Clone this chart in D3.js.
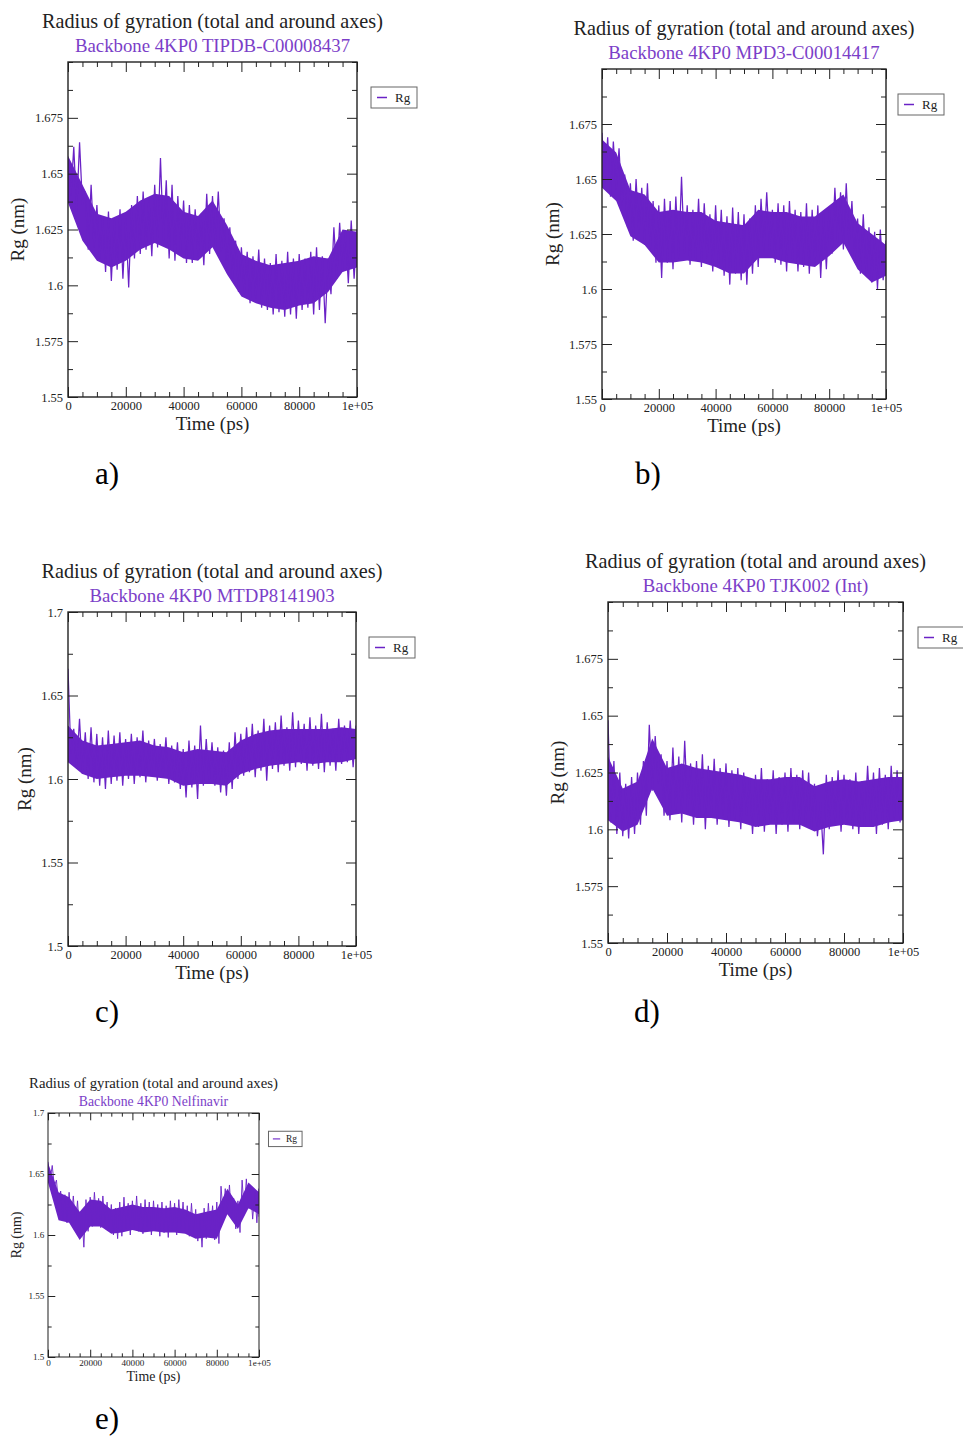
<!DOCTYPE html>
<html>
<head>
<meta charset="utf-8">
<script src="https://cdn.jsdelivr.net/npm/d3@7"></script>
<style>
  body { margin: 0; background: #fff; }
  svg { display: block; }
  text { font-family: "Liberation Serif", "Times New Roman", serif; }
</style>
</head>
<body>
<svg id="chart" width="963" height="1436"></svg>
<script>
// ── data (Rg in nm) ─────────────────────────────────────────────────────────
// extreme envelope every 2 ns
const timePs = [0, 2000, 4000, 6000, 8000, 10000, 12000, 14000, 16000, 18000, 20000,
  22000, 24000, 26000, 28000, 30000, 32000, 34000, 36000, 38000, 40000,
  42000, 44000, 46000, 48000, 50000, 52000, 54000, 56000, 58000, 60000,
  62000, 64000, 66000, 68000, 70000, 72000, 74000, 76000, 78000, 80000,
  82000, 84000, 86000, 88000, 90000, 92000, 94000, 96000, 98000, 100000];
// dense core band every 5 ns
const timeCore = [0, 5000, 10000, 15000, 20000, 25000, 30000, 35000, 40000, 45000, 50000,
  55000, 60000, 65000, 70000, 75000, 80000, 85000, 90000, 95000, 100000];

const hiA = [1.655, 1.662, 1.664, 1.642, 1.645, 1.636, 1.631, 1.633, 1.630, 1.634, 1.630,
  1.636, 1.640, 1.642, 1.639, 1.645, 1.657, 1.647, 1.645, 1.640, 1.638,
  1.636, 1.634, 1.632, 1.641, 1.640, 1.642, 1.630, 1.626, 1.620, 1.617,
  1.615, 1.613, 1.616, 1.612, 1.610, 1.614, 1.611, 1.615, 1.612, 1.614,
  1.612, 1.615, 1.617, 1.613, 1.612, 1.626, 1.628, 1.624, 1.629, 1.625];
const loA = [1.640, 1.633, 1.636, 1.616, 1.617, 1.612, 1.606, 1.602, 1.607, 1.603, 1.599,
  1.612, 1.614, 1.616, 1.613, 1.617, 1.620, 1.612, 1.611, 1.615, 1.610,
  1.610, 1.613, 1.609, 1.614, 1.617, 1.615, 1.606, 1.603, 1.597, 1.596,
  1.592, 1.594, 1.590, 1.589, 1.587, 1.588, 1.586, 1.587, 1.585, 1.589,
  1.590, 1.587, 1.589, 1.583, 1.596, 1.603, 1.606, 1.601, 1.603, 1.610];
const coreHiA = [1.658, 1.645, 1.632, 1.630, 1.633, 1.638, 1.641, 1.640, 1.633, 1.631, 1.638,
  1.627, 1.614, 1.611, 1.609, 1.610, 1.611, 1.613, 1.612, 1.625, 1.624];
const coreLoA = [1.637, 1.620, 1.611, 1.608, 1.611, 1.616, 1.619, 1.616, 1.612, 1.611, 1.617,
  1.605, 1.595, 1.592, 1.590, 1.589, 1.591, 1.592, 1.597, 1.606, 1.608];

const hiB = [1.671, 1.669, 1.667, 1.664, 1.652, 1.648, 1.650, 1.646, 1.648, 1.640, 1.638,
  1.641, 1.640, 1.642, 1.651, 1.638, 1.636, 1.641, 1.639, 1.634, 1.638,
  1.636, 1.633, 1.637, 1.635, 1.634, 1.632, 1.638, 1.641, 1.644, 1.636,
  1.639, 1.638, 1.640, 1.636, 1.635, 1.639, 1.636, 1.638, 1.634, 1.637,
  1.646, 1.644, 1.648, 1.640, 1.632, 1.634, 1.628, 1.626, 1.627, 1.622];
const loB = [1.648, 1.642, 1.645, 1.638, 1.628, 1.622, 1.625, 1.620, 1.618, 1.612, 1.605,
  1.612, 1.609, 1.614, 1.616, 1.611, 1.613, 1.610, 1.614, 1.608, 1.610,
  1.606, 1.602, 1.607, 1.604, 1.602, 1.607, 1.610, 1.617, 1.618, 1.612,
  1.611, 1.608, 1.612, 1.608, 1.610, 1.607, 1.611, 1.605, 1.609, 1.616,
  1.621, 1.618, 1.620, 1.612, 1.607, 1.606, 1.603, 1.600, 1.604, 1.606];
const coreHiB = [1.668, 1.662, 1.645, 1.643, 1.635, 1.636, 1.635, 1.635, 1.631, 1.630, 1.629,
  1.636, 1.635, 1.635, 1.633, 1.633, 1.638, 1.643, 1.630, 1.625, 1.620];
const coreLoB = [1.646, 1.640, 1.624, 1.620, 1.612, 1.612, 1.613, 1.612, 1.610, 1.607, 1.607,
  1.614, 1.614, 1.612, 1.611, 1.610, 1.615, 1.621, 1.609, 1.603, 1.606];

const hiC = [1.666, 1.630, 1.636, 1.628, 1.631, 1.627, 1.625, 1.629, 1.626, 1.628, 1.624,
  1.627, 1.625, 1.629, 1.623, 1.624, 1.621, 1.625, 1.620, 1.622, 1.618,
  1.623, 1.620, 1.632, 1.624, 1.622, 1.619, 1.617, 1.622, 1.628, 1.627,
  1.631, 1.633, 1.629, 1.636, 1.632, 1.634, 1.638, 1.631, 1.640, 1.635,
  1.633, 1.637, 1.632, 1.639, 1.634, 1.630, 1.636, 1.632, 1.635, 1.632];
const loC = [1.615, 1.606, 1.603, 1.600, 1.598, 1.596, 1.594, 1.597, 1.599, 1.596, 1.600,
  1.597, 1.601, 1.598, 1.602, 1.599, 1.601, 1.597, 1.598, 1.594, 1.589,
  1.595, 1.588, 1.596, 1.598, 1.596, 1.592, 1.590, 1.594, 1.600, 1.602,
  1.604, 1.601, 1.605, 1.599, 1.606, 1.604, 1.608, 1.605, 1.607, 1.609,
  1.605, 1.608, 1.606, 1.604, 1.608, 1.605, 1.609, 1.610, 1.607, 1.612];
const coreHiC = [1.632, 1.623, 1.620, 1.621, 1.622, 1.623, 1.620, 1.619, 1.616, 1.618, 1.617,
  1.616, 1.623, 1.627, 1.629, 1.630, 1.630, 1.630, 1.630, 1.631, 1.630];
const coreLoC = [1.610, 1.603, 1.600, 1.601, 1.602, 1.602, 1.601, 1.600, 1.596, 1.597, 1.597,
  1.596, 1.603, 1.606, 1.608, 1.609, 1.610, 1.609, 1.610, 1.610, 1.612];

const hiD = [1.648, 1.630, 1.625, 1.620, 1.623, 1.625, 1.630, 1.646, 1.641, 1.633, 1.630,
  1.636, 1.632, 1.639, 1.629, 1.630, 1.633, 1.628, 1.631, 1.627, 1.629,
  1.626, 1.627, 1.625, 1.622, 1.624, 1.627, 1.622, 1.626, 1.623, 1.625,
  1.627, 1.624, 1.626, 1.625, 1.620, 1.612, 1.624, 1.623, 1.626, 1.624,
  1.622, 1.625, 1.621, 1.628, 1.625, 1.627, 1.624, 1.628, 1.626, 1.626];
const loD = [1.603, 1.598, 1.597, 1.596, 1.598, 1.602, 1.606, 1.617, 1.620, 1.606, 1.604,
  1.607, 1.603, 1.608, 1.602, 1.605, 1.600, 1.606, 1.602, 1.606, 1.601,
  1.604, 1.600, 1.606, 1.598, 1.601, 1.599, 1.603, 1.598, 1.602, 1.599,
  1.603, 1.600, 1.602, 1.600, 1.597, 1.589, 1.600, 1.603, 1.599, 1.602,
  1.600, 1.598, 1.601, 1.603, 1.598, 1.602, 1.600, 1.604, 1.603, 1.605];
const coreHiD = [1.632, 1.618, 1.621, 1.640, 1.627, 1.629, 1.627, 1.626, 1.625, 1.624, 1.622,
  1.622, 1.623, 1.623, 1.619, 1.621, 1.622, 1.621, 1.622, 1.623, 1.623];
const coreLoD = [1.604, 1.599, 1.602, 1.618, 1.606, 1.607, 1.605, 1.605, 1.604, 1.603, 1.601,
  1.602, 1.602, 1.602, 1.599, 1.601, 1.602, 1.601, 1.601, 1.603, 1.604];

const hiE = [1.660, 1.657, 1.645, 1.636, 1.633, 1.635, 1.632, 1.628, 1.618, 1.629, 1.631,
  1.635, 1.630, 1.632, 1.627, 1.625, 1.622, 1.627, 1.631, 1.626, 1.628,
  1.632, 1.626, 1.629, 1.627, 1.628, 1.625, 1.627, 1.624, 1.628, 1.626,
  1.629, 1.627, 1.624, 1.626, 1.621, 1.615, 1.622, 1.626, 1.624, 1.627,
  1.640, 1.638, 1.641, 1.630, 1.628, 1.645, 1.646, 1.640, 1.635, 1.638];
const loE = [1.645, 1.640, 1.625, 1.612, 1.610, 1.613, 1.608, 1.600, 1.590, 1.603, 1.607,
  1.611, 1.606, 1.609, 1.605, 1.600, 1.597, 1.599, 1.604, 1.600, 1.605,
  1.603, 1.601, 1.606, 1.600, 1.604, 1.599, 1.602, 1.598, 1.603, 1.600,
  1.605, 1.602, 1.599, 1.601, 1.595, 1.590, 1.597, 1.602, 1.596, 1.593,
  1.617, 1.619, 1.614, 1.605, 1.602, 1.619, 1.622, 1.613, 1.610, 1.615];
const coreHiE = [1.659, 1.635, 1.631, 1.619, 1.629, 1.628, 1.621, 1.623, 1.625, 1.623, 1.623,
  1.622, 1.623, 1.621, 1.617, 1.619, 1.621, 1.638, 1.625, 1.643, 1.635];
const coreLoE = [1.643, 1.612, 1.610, 1.596, 1.607, 1.607, 1.601, 1.602, 1.604, 1.602, 1.603,
  1.602, 1.602, 1.601, 1.597, 1.598, 1.597, 1.617, 1.605, 1.622, 1.617];

const xTicks = [0, 20000, 40000, 60000, 80000, 100000];
const xTickLabels = ['0', '20000', '40000', '60000', '80000', '1e+05'];
const yTicksFine = [1.55, 1.575, 1.6, 1.625, 1.65, 1.675];
const yLabelsFine = ['1.55', '1.575', '1.6', '1.625', '1.65', '1.675'];
const yTicksWide = [1.5, 1.55, 1.6, 1.65, 1.7];
const yLabelsWide = ['1.5', '1.55', '1.6', '1.65', '1.7'];

const mainTitle = 'Radius of gyration (total and around axes)';
const subtitles = ['Backbone 4KP0 TIPDB-C00008437', 'Backbone 4KP0 MPD3-C00014417',
  'Backbone 4KP0 MTDP8141903', 'Backbone 4KP0 TJK002 (Int)', 'Backbone 4KP0 Nelfinavir'];
const panelLetters = ['a)', 'b)', 'c)', 'd)', 'e)'];

// ── layout ──────────────────────────────────────────────────────────────────
const LINE = '#6a22c6';
const SUB = '#7b3ec8';
const INK = '#222';

const panels = [
  { hi: hiA, lo: loA, cHi: coreHiA, cLo: coreLoA, yDom: [1.55, 1.7], yTicks: yTicksFine, yLabels: yLabelsFine,
    minorStep: 0.0125, frame: { x: 68, y: 62, w: 289, h: 335 }, s: 1, yLabOff: 44, legDx: 14, letter: [95, 484] },
  { hi: hiB, lo: loB, cHi: coreHiB, cLo: coreLoB, yDom: [1.55, 1.7], yTicks: yTicksFine, yLabels: yLabelsFine,
    minorStep: 0.0125, frame: { x: 602, y: 69, w: 284, h: 330 }, s: 1, yLabOff: 43, legDx: 12, letter: [635, 484] },
  { hi: hiC, lo: loC, cHi: coreHiC, cLo: coreLoC, yDom: [1.5, 1.7], yTicks: yTicksWide, yLabels: yLabelsWide,
    minorStep: 0.025, frame: { x: 68, y: 612, w: 288, h: 334 }, s: 1, yLabOff: 37, legDx: 13, letter: [95, 1022] },
  { hi: hiD, lo: loD, cHi: coreHiD, cLo: coreLoD, yDom: [1.55, 1.7], yTicks: yTicksFine, yLabels: yLabelsFine,
    minorStep: 0.0125, frame: { x: 608, y: 602, w: 295, h: 341 }, s: 1, yLabOff: 44, legDx: 15, letter: [634, 1022] },
  { hi: hiE, lo: loE, cHi: coreHiE, cLo: coreLoE, yDom: [1.5, 1.7], yTicks: yTicksWide, yLabels: yLabelsWide,
    minorStep: 0.025, frame: { x: 48, y: 1113, w: 211, h: 244 }, s: 0.73, yLabOff: 37, legDx: 13, letter: [95, 1429] },
];

const svg = d3.select('#chart');

function styleAxis(sel, fs) {
  sel.select('.domain').remove();
  sel.selectAll('line').attr('stroke', INK).attr('stroke-width', 1);
  sel.selectAll('text').attr('fill', INK).style('font-size', fs + 'px')
    .style('font-family', '"Liberation Serif", "Times New Roman", serif');
}

panels.forEach((p, i) => {
  const s = p.s;
  const { x: fx, y: fy, w: fw, h: fh } = p.frame;
  const g = svg.append('g');
  const x = d3.scaleLinear().domain([0, 100000]).range([fx, fx + fw]);
  const y = d3.scaleLinear().domain(p.yDom).range([fy + fh, fy]);

  const clipId = 'clip' + i;
  g.append('clipPath').attr('id', clipId).append('rect')
    .attr('x', fx).attr('y', fy).attr('width', fw).attr('height', fh);

  // series: solid core band + spiky zigzag through the extremes
  const data = g.append('g').attr('clip-path', `url(#${clipId})`);
  const core = timeCore.map((t, k) => ({ t, hi: p.cHi[k], lo: p.cLo[k] }));
  data.append('path').datum(core)
    .attr('d', d3.area().x(d => x(d.t)).y0(d => y(d.lo)).y1(d => y(d.hi)))
    .attr('fill', LINE);
  const zig = timePs.flatMap((t, k) => [[t, p.hi[k]], [Math.min(t + 1000, 100000), p.lo[k]]]);
  data.append('path').datum(zig)
    .attr('d', d3.line().x(d => x(d[0])).y(d => y(d[1])))
    .attr('fill', 'none').attr('stroke', LINE).attr('stroke-width', 1.25 * s);

  // ticks (inward, xmgrace style)
  const tickFs = 12.5 * s, big = 10 * s, small = 5 * s;
  const xMinor = d3.range(0, 100001, 5000).filter(v => !xTicks.includes(v));
  const yMinor = d3.range(p.yDom[0], p.yDom[1] + 1e-9, p.minorStep)
    .filter(v => !p.yTicks.some(t => Math.abs(t - v) < 1e-6));

  g.append('g').attr('transform', `translate(0,${fy + fh})`)
    .call(d3.axisBottom(x).tickValues(xTicks).tickFormat((d, k) => xTickLabels[k])
      .tickSize(-big).tickSizeOuter(0).tickPadding(4 * s))
    .call(a => styleAxis(a, tickFs));
  g.append('g').attr('transform', `translate(0,${fy + fh})`)
    .call(d3.axisBottom(x).tickValues(xMinor).tickFormat('').tickSize(-small).tickSizeOuter(0))
    .call(a => styleAxis(a, tickFs));
  g.append('g').attr('transform', `translate(0,${fy})`)
    .call(d3.axisTop(x).tickValues(xTicks).tickFormat('').tickSize(-big).tickSizeOuter(0))
    .call(a => styleAxis(a, tickFs));
  g.append('g').attr('transform', `translate(0,${fy})`)
    .call(d3.axisTop(x).tickValues(xMinor).tickFormat('').tickSize(-small).tickSizeOuter(0))
    .call(a => styleAxis(a, tickFs));

  g.append('g').attr('transform', `translate(${fx},0)`)
    .call(d3.axisLeft(y).tickValues(p.yTicks).tickFormat((d, k) => p.yLabels[k])
      .tickSize(-big).tickSizeOuter(0).tickPadding(5 * s))
    .call(a => styleAxis(a, tickFs));
  g.append('g').attr('transform', `translate(${fx},0)`)
    .call(d3.axisLeft(y).tickValues(yMinor).tickFormat('').tickSize(-small).tickSizeOuter(0))
    .call(a => styleAxis(a, tickFs));
  g.append('g').attr('transform', `translate(${fx + fw},0)`)
    .call(d3.axisRight(y).tickValues(p.yTicks).tickFormat('').tickSize(-big).tickSizeOuter(0))
    .call(a => styleAxis(a, tickFs));
  g.append('g').attr('transform', `translate(${fx + fw},0)`)
    .call(d3.axisRight(y).tickValues(yMinor).tickFormat('').tickSize(-small).tickSizeOuter(0))
    .call(a => styleAxis(a, tickFs));

  // frame
  g.append('rect').attr('x', fx).attr('y', fy).attr('width', fw).attr('height', fh)
    .attr('fill', 'none').attr('stroke', INK).attr('stroke-width', 1.4 * s);

  // titles
  const cx = fx + fw / 2;
  g.append('text').attr('x', cx).attr('y', fy - 34 * s).attr('text-anchor', 'middle')
    .attr('fill', INK).style('font-size', (20.2 * s) + 'px').text(mainTitle);
  g.append('text').attr('x', cx).attr('y', fy - 10 * s).attr('text-anchor', 'middle')
    .attr('fill', SUB).style('font-size', (18.8 * s) + 'px').text(subtitles[i]);

  // axis labels
  g.append('text').attr('x', cx).attr('y', fy + fh + 33 * s).attr('text-anchor', 'middle')
    .attr('fill', INK).style('font-size', (19 * s) + 'px').text('Time (ps)');
  g.append('text')
    .attr('transform', `translate(${fx - p.yLabOff * s},${fy + fh / 2}) rotate(-90)`)
    .attr('text-anchor', 'middle').attr('fill', INK).style('font-size', (19 * s) + 'px')
    .text('Rg (nm)');

  // legend
  const lx = fx + fw + p.legDx * s, ly = fy + 25 * s, lw = 46 * s, lh = 21 * s;
  g.append('rect').attr('x', lx).attr('y', ly).attr('width', lw).attr('height', lh)
    .attr('fill', '#fff').attr('stroke', '#666').attr('stroke-width', 1);
  g.append('line').attr('x1', lx + 6 * s).attr('x2', lx + 16 * s)
    .attr('y1', ly + lh / 2).attr('y2', ly + lh / 2)
    .attr('stroke', LINE).attr('stroke-width', 1.5 * s);
  g.append('text').attr('x', lx + 24 * s).attr('y', ly + lh / 2 + 4.5 * s)
    .attr('fill', INK).style('font-size', (13 * s) + 'px').text('Rg');

  // panel letter
  svg.append('text').attr('x', p.letter[0]).attr('y', p.letter[1])
    .attr('fill', '#000').style('font-size', '31px').text(panelLetters[i]);
});
</script>
</body>
</html>
